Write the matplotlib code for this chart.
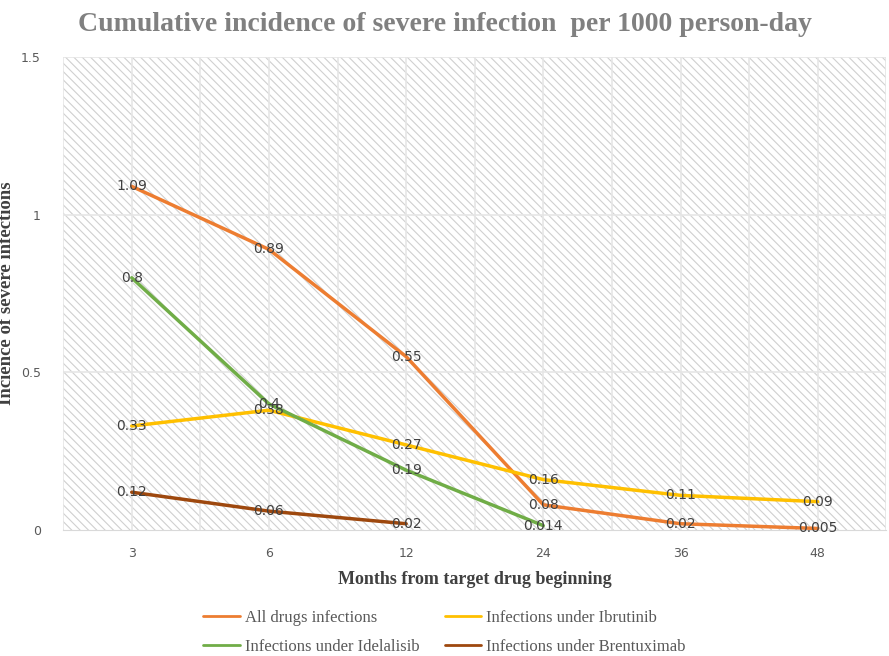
import matplotlib.pyplot as plt
from matplotlib.patches import Rectangle

months = ["3", "6", "12", "24", "36", "48"]
all_drugs = [1.09, 0.89, 0.55, 0.08, 0.02, 0.005]
ibrutinib = [0.33, 0.38, 0.27, 0.16, 0.11, 0.09]
idelalisib = [0.8, 0.4, 0.19, 0.014]
brentuximab = [0.12, 0.06, 0.02]
label_all = ["1.09", "0.89", "0.55", "0.08", "0.02", "0.005"]
label_ibr = ["0.33", "0.38", "0.27", "0.16", "0.11", "0.09"]
label_ide = ["0.8", "0.4", "0.19", "0.014"]
label_bre = ["0.12", "0.06", "0.02"]

series = [
    ("All drugs infections", all_drugs, label_all, "#ED7D31"),
    ("Infections under Ibrutinib", ibrutinib, label_ibr, "#FFC000"),
    ("Infections under Idelalisib", idelalisib, label_ide, "#70AD47"),
    ("Infections under Brentuximab", brentuximab, label_bre, "#9E480E"),
]

plt.rcParams["hatch.linewidth"] = 0.8
plt.rcParams["hatch.color"] = "#d0d0d0"

fig = plt.figure(figsize=(8.89, 6.56), dpi=100)
ax = fig.add_axes([0.071, 0.192, 0.926, 0.721])

# hatched plot background
ax.add_patch(Rectangle((0, 0), 1, 1, transform=ax.transAxes, facecolor="white",
                       edgecolor="#d0d0d0", hatch="\\\\\\\\", lw=0, zorder=0))

ax.set_xlim(-0.5, 5.5)
ax.set_ylim(0, 1.5)
for xv in [i * 0.5 for i in range(-1, 12)]:
    ax.axvline(xv, color="#e6e6e6", lw=1.2, zorder=1)
for yv in [0.5, 1.0, 1.5]:
    ax.axhline(yv, color="#e6e6e6", lw=1.2, zorder=1)

handles = []
for name, vals, labs, col in series:
    xs = list(range(len(vals)))
    h, = ax.plot(xs, vals, color=col, lw=2.5, label=name, zorder=3,
                 solid_capstyle="round")
    handles.append(h)
    for x, v, t in zip(xs, vals, labs):
        ax.text(x, v, t, ha="center", va="center", fontsize=10,
                color="#404040", zorder=4)

ax.set_xticks(range(len(months)))
ax.set_xticklabels(months)
ax.set_yticks([0, 0.5, 1, 1.5])
ax.set_yticklabels(["0", "0.5", "1", "1.5"])
ax.tick_params(length=0, labelsize=9, labelcolor="#595959")
ax.tick_params(axis="x", pad=12)
ax.tick_params(axis="y", pad=16)
for s in ["top", "right", "left"]:
    ax.spines[s].set_visible(False)
ax.spines["bottom"].set_color("#d9d9d9")

serif = "Liberation Serif"
ax.set_xlabel("Months from target drug beginning", fontfamily=serif,
              fontweight="bold", fontsize=13, color="#404040", labelpad=8)
ax.set_ylabel("Incience of severe infections", fontfamily=serif,
              fontweight="bold", fontsize=13.5, color="#404040")
ax.yaxis.set_label_coords(-0.058, 0.5)
fig.text(0.5, 0.962, "Cumulative incidence of severe infection  per 1000 person-day",
         ha="center", va="center", fontfamily=serif, fontweight="bold",
         fontsize=20, color="#808080")

# legend is filled row by row in the reference
order = [handles[0], handles[2], handles[1], handles[3]]
fig.legend(order, [h.get_label() for h in order], ncol=2, loc="center",
           bbox_to_anchor=(0.5, 0.036), frameon=False,
           prop={"family": serif, "size": 12}, labelcolor="#595959",
           handlelength=2.2, handletextpad=0.3, columnspacing=1.5,
           labelspacing=0.75)
for line in fig.legends[0].get_lines():
    line.set_linewidth(2)

fig.savefig("out.png", dpi=100)
